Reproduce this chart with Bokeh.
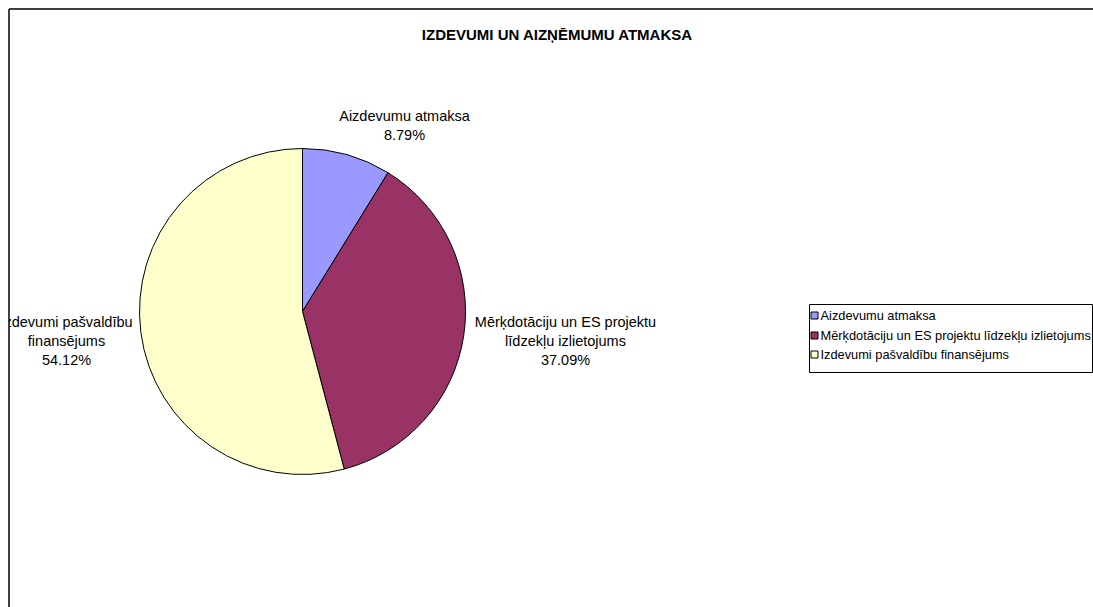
import math
from bokeh.plotting import figure
from bokeh.models import Range1d, ColumnDataSource
from bokeh.core.properties import value
from bokeh.embed import file_html
from bokeh.resources import INLINE

# ---------------- data ----------------
chart_title = "IZDEVUMI UN AIZŅĒMUMU ATMAKSA"
categories = [
    "Aizdevumu atmaksa",
    "Mērķdotāciju un ES projektu līdzekļu izlietojums",
    "Izdevumi pašvaldību finansējums",
]
shares = [8.79, 37.09, 54.12]
label_names = [
    ["Aizdevumu atmaksa"],
    ["Mērķdotāciju un ES projektu", "līdzekļu izlietojums"],
    ["Izdevumi pašvaldību", "finansējums"],
]
colors = ["#9999FF", "#993366", "#FFFFCC"]

# ---------------- layout (page pixels) ----------------
W, H = 1093, 607
def px(x):
    return x
def py(y):
    return H - y

FONT = value("Liberation Sans")
pie_cx, pie_cy, pie_r = 302, 311, 163
label_pos = [(404, 115), (565, 321), (66, 321)]
line_step = 19
legend_box = (809, 304, 1092, 372)
legend_rows = [315, 335, 354]
legend_sq_x = 814
legend_text_x = 820

p = figure(width=W, height=H, x_range=Range1d(0, W), y_range=Range1d(0, H),
           output_backend="svg", toolbar_location=None, min_border=0,
           x_axis_type=None, y_axis_type=None)
p.grid.visible = False
p.outline_line_color = None
p.background_fill_color = "white"
p.border_fill_color = "white"

# title
p.text(x=[px(557)], y=[py(34)], text=[chart_title], text_font=FONT, text_font_size="15px",
       text_font_style="bold", text_align="center", text_baseline="middle", text_color="black")

# pie
total = sum(shares)
starts, ends = [], []
cum = 0.0
for s in shares:
    starts.append(math.pi / 2 - 2 * math.pi * cum / total)
    cum += s
    ends.append(math.pi / 2 - 2 * math.pi * cum / total)
src = ColumnDataSource(dict(x=[px(pie_cx)] * 3, y=[py(pie_cy)] * 3, start=starts, end=ends, color=colors))
p.wedge(x="x", y="y", radius=pie_r, start_angle="start", end_angle="end", direction="clock",
        fill_color="color", line_color="black", line_width=1, source=src)

# data labels
tx, ty, tt = [], [], []
for (lx, ly), names, s in zip(label_pos, label_names, shares):
    lines = names + [f"{s:.2f}%"]
    for i, t in enumerate(lines):
        tx.append(px(lx)); ty.append(py(ly + i * line_step)); tt.append(t)
p.text(x=tx, y=ty, text=tt, text_font=FONT, text_font_size="14.5px", text_align="center",
       text_baseline="middle", text_color="black")

# legend
x0, y0, x1, y1 = legend_box
p.quad(left=[px(x0)], right=[px(x1)], top=[py(y0)], bottom=[py(y1)], fill_color="white",
       line_color="black", line_width=1)
p.scatter(x=[px(legend_sq_x)] * 3, y=[py(r) for r in legend_rows], marker="square", size=7,
          fill_color=colors, line_color="black", line_width=1)
p.text(x=[px(legend_text_x)] * 3, y=[py(r) for r in legend_rows], text=categories, text_font=FONT,
       text_font_size="12.8px", text_align="left", text_baseline="middle", text_color="black")

# page margin outside the chart area (clips content at the chart edge)
p.quad(left=[px(-5), px(-5)], right=[px(8.5), px(W + 5)], top=[py(-5), py(-5)], bottom=[py(H + 5), py(8.5)],
       fill_color="white", line_color=None)

# chart border (left and top edges visible)
p.segment(x0=[px(8.5), px(8.5)], y0=[py(8.5), py(8.5)], x1=[px(8.5), px(1200)], y1=[py(700), py(8.5)],
          line_color="black", line_width=1.5)

open("out.html", "w").write(file_html(p, INLINE))
